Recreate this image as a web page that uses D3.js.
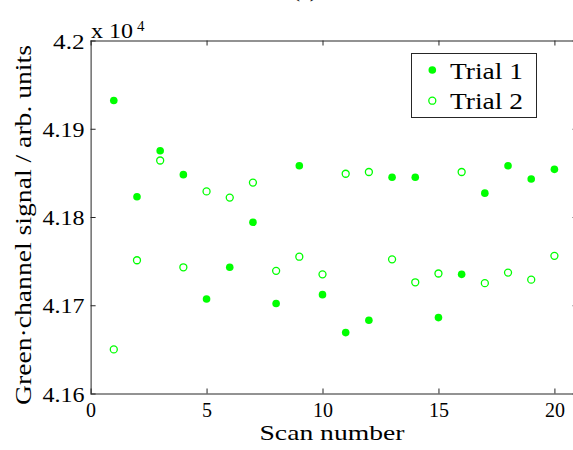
<!DOCTYPE html>
<html>
<head>
<meta charset="utf-8">
<script src="https://d3js.org/d3.v7.min.js"></script>
<title>Green-channel signal per scan</title>
<style>
  body { margin: 0; background: #fff; }
  svg { display: block; font-family: "Liberation Serif", "DejaVu Serif", serif; }
</style>
</head>
<body>
<div id="chart"></div>
<script>
// scan numbers and the two trials (signal in units of 10^4)
var scans = [1, 2, 3, 4, 5, 6, 7, 8, 9, 10, 11, 12, 13, 14, 15, 16, 17, 18, 19, 20];
var trial1 = [4.1932, 4.1823, 4.1875, 4.1848, 4.1707, 4.1743, 4.1794, 4.1702, 4.1858, 4.1712,
              4.1669, 4.1683, 4.1845, 4.1845, 4.1686, 4.1735, 4.1827, 4.1858, 4.1843, 4.1854];
var trial2 = [4.1650, 4.1751, 4.1864, 4.1743, 4.1829, 4.1822, 4.1839, 4.1739, 4.1755, 4.1735,
              4.1849, 4.1851, 4.1752, 4.1726, 4.1736, 4.1851, 4.1725, 4.1737, 4.1729, 4.1756];
var xTicks = [0, 5, 10, 15, 20];
var yTicks = [4.16, 4.17, 4.18, 4.19, 4.20];
var seriesNames = ["Trial 1", "Trial 2"];

var width = 573, height = 450;
var green = "#00ff00";
var axisColor = "#262626";
var serif = '"Liberation Serif", "DejaVu Serif", serif';

var svg = d3.select("#chart").append("svg")
    .attr("width", width)
    .attr("height", height)
    .style("font-family", serif);

// plot area (right side runs past the window edge like the original)
var x = d3.scaleLinear().domain([0, 21]).range([90.6, 577.6]);
var y = d3.scaleLinear().domain([4.16, 4.20]).range([393.5, 40.5]);

var fmtY = function(d) { return String(+d.toFixed(2)); };

// axes, ticks pointing inwards
var gx = svg.append("g")
    .attr("transform", "translate(0," + y(4.16) + ")")
    .call(d3.axisBottom(x).tickValues(xTicks).tickSize(-5).tickSizeOuter(0).tickPadding(9));
var gxTop = svg.append("g")
    .attr("transform", "translate(0," + y(4.20) + ")")
    .call(d3.axisTop(x).tickValues(xTicks).tickSize(-5).tickSizeOuter(0).tickFormat(""));
var gy = svg.append("g")
    .attr("transform", "translate(" + x(0) + ",0)")
    .call(d3.axisLeft(y).tickValues(yTicks).tickSize(-5).tickSizeOuter(0).tickPadding(6).tickFormat(fmtY));
var gyRight = svg.append("g")
    .attr("transform", "translate(" + x(21) + ",0)")
    .call(d3.axisRight(y).tickValues(yTicks).tickSize(-5).tickSizeOuter(0).tickFormat(""));

[gx, gxTop, gy, gyRight].forEach(function(g) {
  g.attr("font-family", null);
  g.select(".domain").remove();
  g.selectAll("line").attr("stroke", axisColor);
  g.selectAll("text")
    .attr("fill", "#000")
    .style("font-family", serif)
    .style("font-size", "20px");
});
gy.selectAll("text").attr("dy", "0.38em")
    .attr("textLength", function(d) { return fmtY(d).length * 10.5; })
    .attr("lengthAdjust", "spacingAndGlyphs");

// frame
svg.append("rect")
    .attr("x", x(0) + 0.5)
    .attr("y", y(4.20) + 0.5)
    .attr("width", x(21) - x(0))
    .attr("height", y(4.16) - y(4.20))
    .attr("fill", "none")
    .attr("stroke", axisColor)
    .attr("stroke-width", 1);

// exponent label
svg.append("text")
    .attr("x", 91)
    .attr("y", 38)
    .style("font-size", "21px")
    .attr("textLength", 42)
    .attr("lengthAdjust", "spacingAndGlyphs")
    .text("x 10");
svg.append("text")
    .attr("x", 137)
    .attr("y", 31)
    .style("font-size", "15px")
    .text("4");

// data points
svg.append("g").selectAll("circle")
    .data(scans)
    .enter().append("circle")
    .attr("cx", function(d) { return x(d); })
    .attr("cy", function(d, i) { return y(trial1[i]); })
    .attr("r", 3.8)
    .attr("fill", green);

svg.append("g").selectAll("circle")
    .data(scans)
    .enter().append("circle")
    .attr("cx", function(d) { return x(d); })
    .attr("cy", function(d, i) { return y(trial2[i]); })
    .attr("r", 3.5)
    .attr("fill", "none")
    .attr("stroke", green)
    .attr("stroke-width", 1.3);

// legend
var legend = svg.append("g");
legend.append("rect")
    .attr("x", 411.5).attr("y", 53.5)
    .attr("width", 125).attr("height", 64)
    .attr("fill", "#fff")
    .attr("stroke", axisColor);
var item = legend.selectAll(".item")
    .data(seriesNames)
    .enter().append("g")
    .attr("class", "item")
    .attr("transform", function(d, i) { return "translate(0," + (70 + i * 30.7) + ")"; });
item.append("circle")
    .attr("cx", 432.3)
    .attr("cy", 0)
    .attr("r", function(d, i) { return i === 0 ? 3.8 : 3.5; })
    .attr("fill", function(d, i) { return i === 0 ? green : "none"; })
    .attr("stroke", function(d, i) { return i === 0 ? "none" : green; })
    .attr("stroke-width", 1.3);
item.append("text")
    .attr("x", 450)
    .attr("y", 8.5)
    .style("font-size", "23px")
    .attr("textLength", 73)
    .attr("lengthAdjust", "spacingAndGlyphs")
    .text(function(d) { return d; });

// axis titles
svg.append("text")
    .attr("x", 332)
    .attr("y", 440)
    .attr("text-anchor", "middle")
    .style("font-size", "22px")
    .attr("textLength", 145)
    .attr("lengthAdjust", "spacingAndGlyphs")
    .text("Scan number");

svg.append("text")
    .attr("transform", "translate(31,225) rotate(-90)")
    .attr("text-anchor", "middle")
    .style("font-size", "23.5px")
    .attr("textLength", 360)
    .attr("lengthAdjust", "spacingAndGlyphs")
    .text("Green·channel signal / arb. units");

// panel title, mostly above the visible area
svg.append("text")
    .attr("x", 305)
    .attr("y", -3)
    .attr("text-anchor", "middle")
    .style("font-size", "22px")
    .text("(a)");
</script>
</body>
</html>
